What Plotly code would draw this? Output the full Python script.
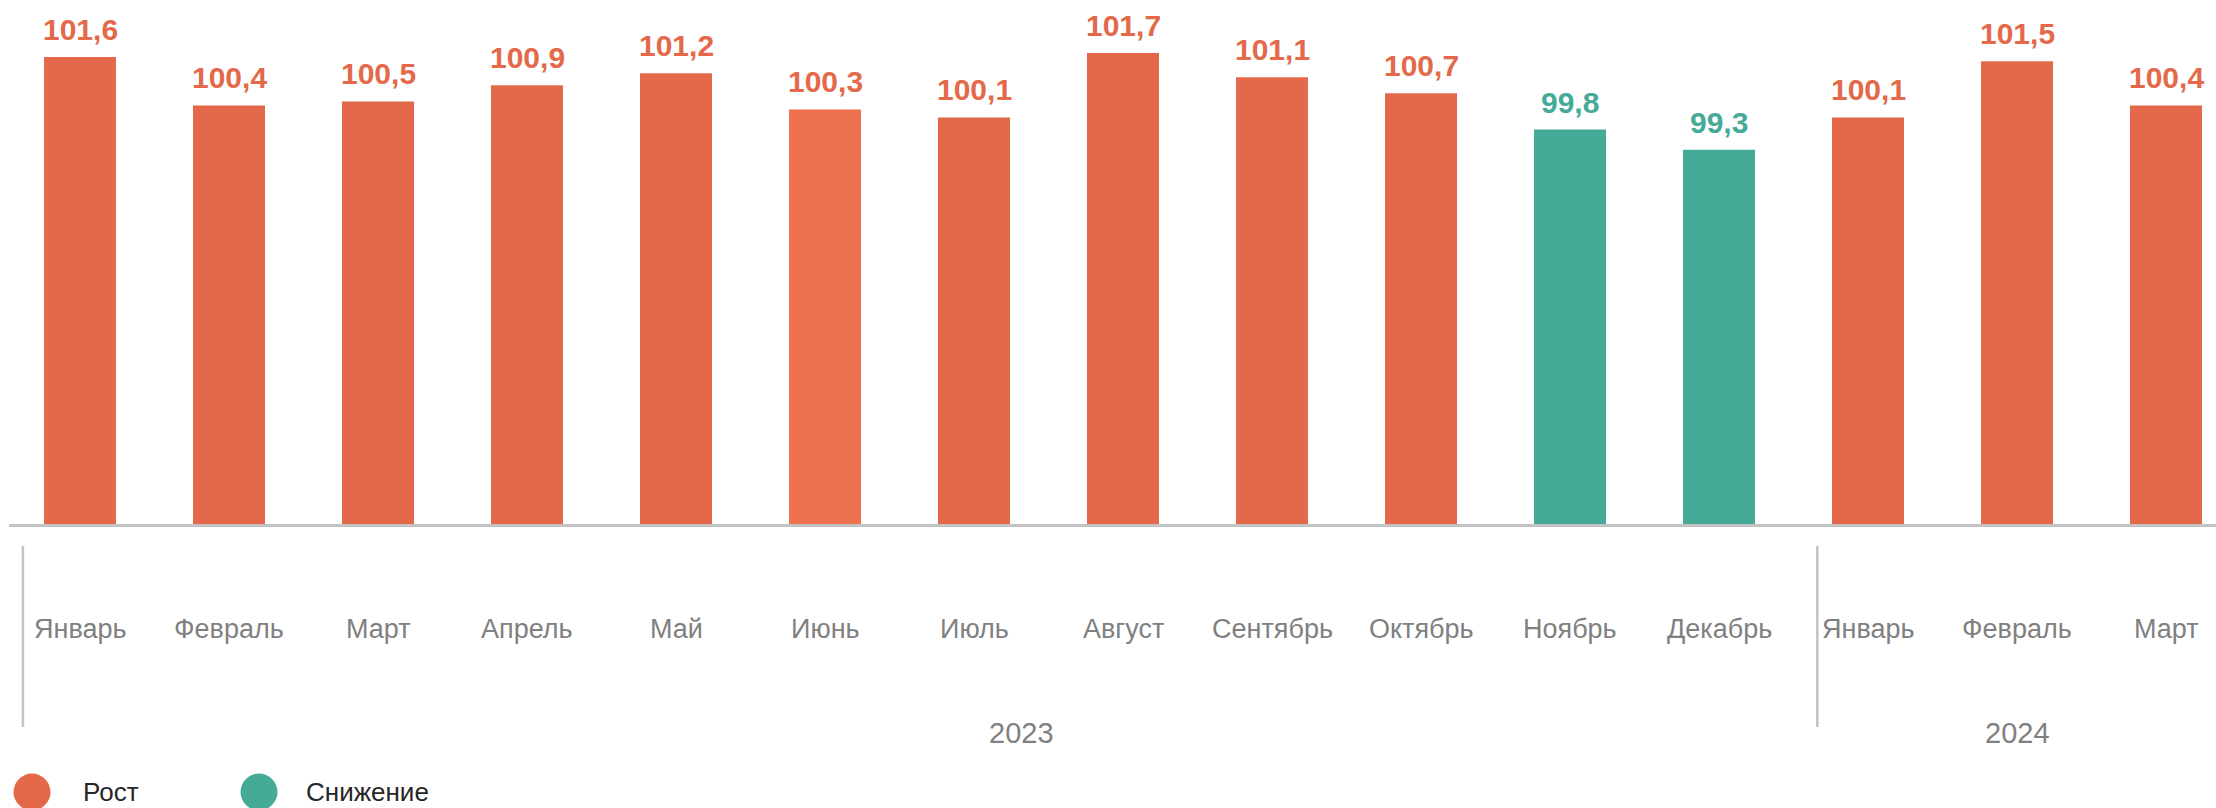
import plotly.graph_objects as go

# ---- data ----
months = ["Январь", "Февраль", "Март", "Апрель", "Май", "Июнь", "Июль", "Август",
          "Сентябрь", "Октябрь", "Ноябрь", "Декабрь", "Январь", "Февраль", "Март"]
years = ["2023"] * 12 + ["2024"] * 3
values = [101.6, 100.4, 100.5, 100.9, 101.2, 100.3, 100.1, 101.7,
          101.1, 100.7, 99.8, 99.3, 100.1, 101.5, 100.4]
year_labels = ["2023", "2024"]
legend_labels = ["Рост", "Снижение"]

# ---- style ----
ORANGE = "#E3694A"
ORANGE_LIGHT = "#EE7150"
TEAL = "#46AA98"
GRAY_TXT = "#808080"
AXIS_GRAY = "#C3C3C3"
FONT = "Arial, Liberation Sans, sans-serif"

W, H = 2216, 808
L, T = 9, 0
PLOT_H = 524
PLOT_W = W - L
STEP = 149.0          # px per category
FIRST_C = 80.0        # px centre of first bar
x0 = -(FIRST_C - L) / STEP
x1 = x0 + PLOT_W / STEP
BASE = 90.0
PX_PER_UNIT = 40.25
y_top = BASE + PLOT_H / PX_PER_UNIT

idx = list(range(len(values)))
label_colors = [TEAL if v < 100 else ORANGE for v in values]
bar_colors = list(label_colors)
bar_colors[5] = ORANGE_LIGHT  # June bar drawn a bit lighter in the original

fig = go.Figure()
fig.add_trace(go.Bar(
    x=idx, y=values,
    marker=dict(color=bar_colors, line=dict(width=0)),
    width=72 / STEP,
    hoverinfo="skip", showlegend=False,
))


def py(px):
    """pixel y (from top of figure) -> paper y"""
    return -(px - PLOT_H) / PLOT_H


def px_to_paper_x(px):
    return (px - L) / PLOT_W


annotations = []
# value labels
for i, v in enumerate(values):
    annotations.append(dict(
        x=i, y=v, xref="x", yref="y",
        text=f"{v:.1f}".replace(".", ","),
        showarrow=False, yanchor="bottom", xanchor="center", yshift=9,
        font=dict(family=FONT, size=30, color=label_colors[i], weight="bold"),
    ))
# month labels
for i, m in enumerate(months):
    annotations.append(dict(
        x=i, y=py(629), xref="x", yref="paper", text=m, showarrow=False,
        xanchor="center", yanchor="middle",
        font=dict(family=FONT, size=27, color=GRAY_TXT),
    ))
# year labels
year_x = {"2023": 6.32, "2024": 13.0}
for yl in year_labels:
    annotations.append(dict(
        x=year_x[yl], y=py(733), xref="x", yref="paper", text=yl, showarrow=False,
        xanchor="center", yanchor="middle",
        font=dict(family=FONT, size=29, color=GRAY_TXT),
    ))
# legend texts
leg_text_x = [81, 304]
for lab, lx in zip(legend_labels, leg_text_x):
    annotations.append(dict(
        x=px_to_paper_x(lx), y=py(792), xref="paper", yref="paper", text=lab,
        showarrow=False, xanchor="left", yanchor="middle",
        font=dict(family=FONT, size=26, color="#262626"),
    ))

shapes = []
# year group separators
for sx in [-0.383, 11.66]:
    shapes.append(dict(type="line", xref="x", yref="paper", x0=sx, x1=sx,
                       y0=py(546), y1=py(727),
                       line=dict(color=AXIS_GRAY, width=2.5)))
# legend circles
for cx, col in zip([32, 259], [ORANGE, TEAL]):
    shapes.append(dict(type="circle", xref="paper", yref="paper",
                       xsizemode="pixel", ysizemode="pixel",
                       xanchor=px_to_paper_x(cx), yanchor=py(792),
                       x0=-18.5, x1=18.5, y0=-18.5, y1=18.5,
                       fillcolor=col, line=dict(width=0)))

fig.update_layout(
    width=W, height=H,
    margin=dict(l=L, r=0, t=T, b=H - PLOT_H - T, pad=0),
    paper_bgcolor="white", plot_bgcolor="white",
    xaxis=dict(range=[x0, x1], showgrid=False, zeroline=False, showticklabels=False,
               ticks="", showline=True, linecolor=AXIS_GRAY, linewidth=2.5,
               fixedrange=True),
    yaxis=dict(range=[BASE, y_top], showgrid=False, zeroline=False,
               showticklabels=False, ticks="", showline=False, fixedrange=True),
    annotations=annotations, shapes=shapes,
    showlegend=False,
)

fig.write_html(
    "out.html",
    config={"displayModeBar": False},
    post_script="document.body.style.margin='0';document.body.style.overflow='hidden';",
)
